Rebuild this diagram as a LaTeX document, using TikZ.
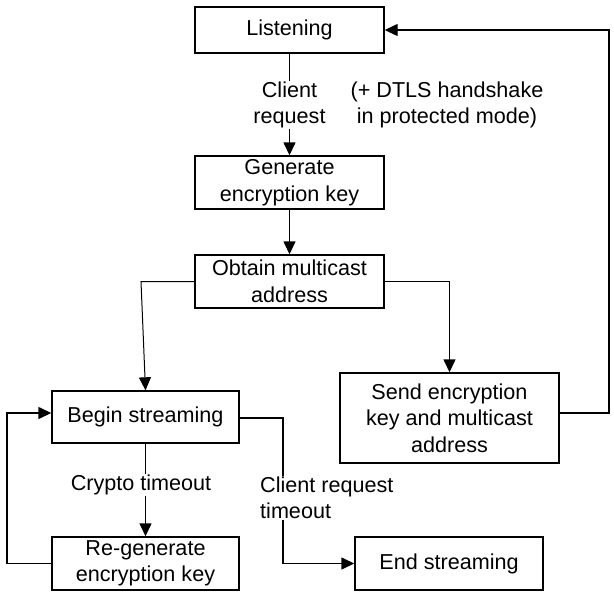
\documentclass[tikz,border=0pt]{standalone}
\usepackage{fontspec}
\setmainfont{Liberation Sans}
\usetikzlibrary{arrows.meta,positioning,calc}
\tikzset{
  box/.style={draw, line width=1.4pt, align=center, inner sep=0pt, font=\fontsize{21.6}{26.5}\selectfont},
  lbl/.style={fill=white, align=center, inner sep=1pt, font=\fontsize{21.6}{26.5}\selectfont},
  conn/.style={draw, line width=1.4pt, -{Triangle[length=13pt,width=12pt]}}
}
\begin{document}
\begin{tikzpicture}[x=1pt, y=-1pt]
\useasboundingbox (0,0) rectangle (614,595);
\node[box, minimum width=189pt, minimum height=46pt] (listen) at (289.5,30) {Listening};
\node[box, minimum width=189pt, minimum height=53pt] (genkey) at (289.5,182.5) {Generate\\encryption key};
\node[box, minimum width=189pt, minimum height=53pt] (obtain) at (289.5,281.5) {Obtain multicast\\address};
\node[box, minimum width=187pt, minimum height=52pt] (begin) at (145.5,417) {Begin streaming};
\node[box, minimum width=219pt, minimum height=90pt] (send) at (449.5,418) {Send encryption\\key and multicast\\address};
\node[box, minimum width=187pt, minimum height=53pt] (regen) at (145.5,563.5) {Re-generate\\encryption key};
\node[box, minimum width=188pt, minimum height=53pt] (end) at (449,563.5) {End streaming};
% connectors
\draw[conn] (listen) -- (genkey);
\draw[conn] (genkey) -- (obtain);
\coordinate (cornL) at (141,281.5);
\draw[conn, line width=1pt] (obtain.west) -- (cornL) -- (begin.north);
\draw[conn] (obtain.east) -| (send.north);
\draw[conn] (send.east |- 0,413) -- (609,413) |- (listen.east);
\draw[conn] (begin) -- (regen);
\draw[conn] (begin.east |- 0,418) -- (283,418) |- (end.west);
\draw[conn] (regen.west) -- (7,563.5) |- (begin.west |- 0,413);
% labels
\node[lbl] (req) at (289.5,105) {Client\\request};
\node[lbl, fill=none] (dtls) at (447,105) {(+ DTLS handshake\\in protected mode)};
\node[lbl] (crypto) at (141,485) {Crypto timeout};
\node[lbl, align=left, anchor=west] (creqto) at (259,498) {Client request\\timeout};
\end{tikzpicture}
\end{document}
